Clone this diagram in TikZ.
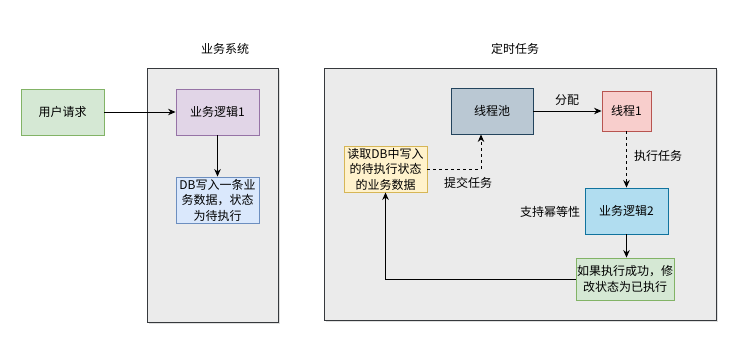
\documentclass[tikz,border=0pt]{standalone}
\usepackage{fontspec}
\setmainfont{Noto Sans CJK SC}
\usetikzlibrary{arrows.meta,positioning,shadows}

\definecolor{sysfill}{HTML}{EBEBEB}
\definecolor{sysline}{HTML}{36393D}
\definecolor{greenfill}{HTML}{D5E8D4}
\definecolor{greenline}{HTML}{82B366}
\definecolor{purplefill}{HTML}{E1D5E7}
\definecolor{purpleline}{HTML}{9673A6}
\definecolor{bluefill}{HTML}{DAE8FC}
\definecolor{blueline}{HTML}{6C8EBF}
\definecolor{slatefill}{HTML}{BAC8D3}
\definecolor{slateline}{HTML}{23445D}
\definecolor{redfill}{HTML}{F8CECC}
\definecolor{redline}{HTML}{B85450}
\definecolor{yellowfill}{HTML}{FFF2CC}
\definecolor{yellowline}{HTML}{D6B656}
\definecolor{cyanfill}{HTML}{B1DDF0}
\definecolor{cyanline}{HTML}{10739E}

\begin{document}
\begin{tikzpicture}[
  x=1pt,y=-1pt,
  font=\fontsize{12}{15.5}\selectfont,
  panel/.style={draw=sysline,fill=sysfill,line width=1pt,
                drop shadow={shadow xshift=2pt,shadow yshift=-2pt,opacity=0.25}},
  box/.style={draw,line width=0.9pt,align=center,inner sep=1pt,
              minimum width=83pt,minimum height=46pt},
  lbl/.style={inner sep=1pt},
  arr/.style={-{Stealth[length=7.5pt,width=6.5pt]},line width=0.9pt},
  darr/.style={arr,dashed}
]
\useasboundingbox (0,0) rectangle (734,348);
% containers
\draw[panel] (147,68) rectangle (278,322);
\draw[panel] (324,68) rectangle (716,320);
\node[lbl] (systitle) at (225,49) {业务系统};
\node[lbl] (jobtitle) at (515,49) {定时任务};

% business system
\node[box,draw=greenline,fill=greenfill] (req) at (62.5,112) {用户请求};
\node[box,draw=purpleline,fill=purplefill] (logic1) at (217.5,112) {业务逻辑1};
\node[box,draw=blueline,fill=bluefill] (dbwrite) at (217.5,200) {DB写入一条业\\务数据，状态\\为待执行};

% scheduled job
\node[box,draw=slateline,fill=slatefill,minimum width=82pt] (pool) at (492,111) {线程池};
\node[box,draw=redline,fill=redfill,minimum width=49pt,minimum height=40pt] (thread1) at (626.5,111) {线程1};
\node[box,draw=yellowline,fill=yellowfill] (readdb) at (385.5,169) {读取DB中写入\\的待执行状态\\的业务数据};
\node[box,draw=cyanline,fill=cyanfill] (logic2) at (626.5,211) {业务逻辑2};
\node[box,draw=greenline,fill=greenfill,minimum width=98pt,minimum height=42pt] (done) at (625,279) {如果执行成功，修\\改状态为已执行};

\node[lbl] (assign) at (567,100) {分配};
\node[lbl] (submit) at (468,183) {提交任务};
\node[lbl] (exec) at (658,156) {执行任务};
\node[lbl] (idem) at (550,212) {支持幂等性};

\draw[arr] (req) -- (logic1);
\draw[arr] (logic1) -- (dbwrite);
\draw[arr] (pool) -- (thread1);
\draw[darr] (readdb.east) -| ([xshift=-11pt]pool.south);
\draw[darr] (thread1) -- (logic2);
\draw[arr] (logic2.south) -- (logic2.south |- done.north);
\draw[arr] (done.west) -| (readdb.south);
\end{tikzpicture}
\end{document}
